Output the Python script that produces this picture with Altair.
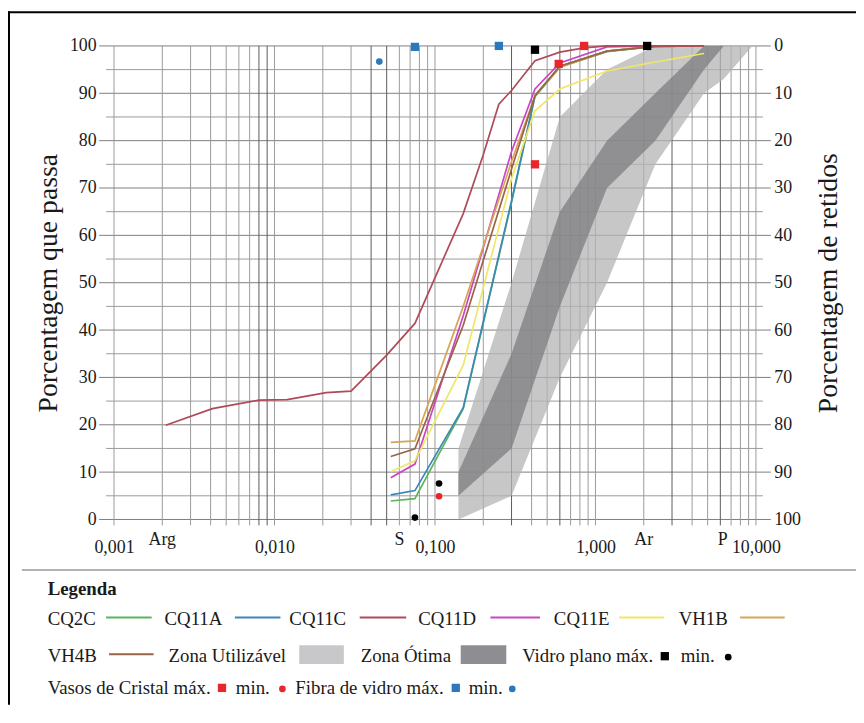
import altair as alt
import pandas as pd

FONT = "Times New Roman, Liberation Serif, DejaVu Serif, serif"
INK = "#1a1a1a"

# ---------------- data ----------------
SERIES = ["CQ2C", "CQ11A", "CQ11C", "CQ11D", "CQ11E", "VH1B", "VH4B"]
COLORS = ["#5fb35f", "#3a88b5", "#b04a58", "#cc44c4", "#efe765", "#d8a455", "#9a6446"]

SIEVES = [0.053, 0.075, 0.15, 0.3, 0.42, 0.6, 1.18, 2.36, 4.75]
CQ2C = [3.9, 4.4, 23.4, 67.0, 89.3, 95.5, 98.8, 99.9, 100]
CQ11A = [5.2, 6.1, 23.6, 67.3, 89.5, 95.7, 98.9, 99.9, 100]
CQ11D = [8.8, 11.7, 43.0, 77.7, 90.9, 96.4, 99.8, 100, 100]
CQ11E = [10.1, 12.4, 32.6, 72.0, 86.3, 90.9, 94.7, 96.6, 98.4]
VH1B = [16.3, 16.6, 45.0, 75.6, 89.5, 95.5, 98.9, 100, 100]
VH4B = [13.3, 14.9, 41.0, 74.0, 89.5, 95.7, 98.9, 99.9, 100]

CQ11C_D = [0.0021, 0.0041, 0.008, 0.012, 0.021, 0.03, 0.05, 0.075, 0.15,
           0.2, 0.25, 0.3, 0.42, 0.6, 0.85, 1.18, 2.36, 4.75]
CQ11C_P = [19.9, 23.4, 25.2, 25.3, 26.8, 27.1, 34.7, 41.4, 64.6,
           77.0, 87.7, 90.6, 96.9, 98.7, 99.6, 100, 100, 100]

ZONE_D = [0.14, 0.3, 0.6, 1.18, 2.36, 4.75, 6.3, 9.5]
UTIL_LO = [0, 5, 30, 50, 75, 90, 93, 100]
UTIL_HI = [15, 50, 85, 95, 100, 100, 100, 100]
OT_LO = [5, 15, 45, 70, 80, 95, 100, 100]
OT_HI = [10, 35, 65, 80, 90, 100, 100, 100]

VIDRO_MAX_D, VIDRO_MAX_P = [0.42, 2.1], [99.2, 100]
VIDRO_MIN_D, VIDRO_MIN_P = [0.075, 0.106], [0.4, 7.6]
VASOS_MAX_D, VASOS_MAX_P = [0.42, 0.59, 0.85], [75.0, 96.2, 100]
VASOS_MIN_D, VASOS_MIN_P = [0.106], [4.9]
FIBRA_MAX_D, FIBRA_MAX_P = [0.075, 0.25], [99.8, 100]
FIBRA_MIN_D, FIBRA_MIN_P = [0.045], [96.7]

CLASS_LABELS = ["Arg", "S", "Ar", "P"]
CLASS_D = [0.002, 0.06, 2.0, 6.2]

X_TICKS = [0.001, 0.01, 0.1, 1, 10]
Y_TICKS = list(range(0, 101, 10))
Y_MINOR = list(range(5, 100, 10))
GRID_D = [m * 10.0 ** e for e in range(-3, 1) for m in range(1, 10)] + [10.0]
GRID_DARK = [0.008, 0.009, 0.04, 0.05, 0.3, 0.6, 3.0, 6.0]

# ---------------- layout ----------------
W, H = 648, 478
PAD = {"left": 107, "top": 35, "right": 101, "bottom": 187}

XS = alt.Scale(type="log", domain=[0.001, 10], nice=False)
YS = alt.Scale(domain=[0, 100], nice=False)

XA = alt.Axis(values=X_TICKS, labelExpr="replace(format(datum.value, '.3f'), '.', ',')",
              title=None, grid=False, ticks=False, domain=False, labelPadding=19,
              labelFont=FONT, labelFontSize=18, labelColor=INK, labelFlush=False,
              labelOverlap=False)
YA = alt.Axis(values=Y_TICKS, title="Porcentagem que passa", grid=False, ticks=False,
              domain=False, labelPadding=18, labelFont=FONT, labelFontSize=18,
              labelColor=INK, titleFont=FONT, titleFontSize=28, titleFontWeight="normal",
              titleColor=INK, titlePadding=7)
RA = alt.Axis(orient="right", values=Y_TICKS, title="Porcentagem de retidos", grid=False,
              ticks=False, domain=False, labelPadding=18, labelFont=FONT, labelFontSize=18,
              labelColor=INK, titleFont=FONT, titleFontSize=28, titleFontWeight="normal",
              titleColor=INK, titlePadding=14, titleAngle=270, titleBaseline="top")


def X(f):
    return alt.X(f"{f}:Q", scale=XS, axis=XA)


def Y(f):
    return alt.Y(f"{f}:Q", scale=YS, axis=YA)


ONE = pd.DataFrame({"k": [0]})

# grid
hmaj = alt.Chart(pd.DataFrame({"v": Y_TICKS})).mark_rule(color="#7d7d7d", strokeWidth=1).encode(
    y=Y("v"), x=alt.value(-15), x2=alt.value(W + 15))
hmin = alt.Chart(pd.DataFrame({"v": Y_MINOR})).mark_rule(color="#9a9a9a", strokeWidth=1).encode(
    y=Y("v"), x=alt.value(-8), x2=alt.value(W + 7))
grid_df = pd.DataFrame({"v": GRID_D})
grid_df["dark"] = [any(abs(v - g) / g < 1e-6 for g in GRID_DARK) for v in GRID_D]
vlight = alt.Chart(grid_df[~grid_df["dark"]]).mark_rule(color="#9a9a9a", strokeWidth=1).encode(
    x=X("v"), y=alt.value(0), y2=alt.value(H + 6))
vdark = alt.Chart(grid_df[grid_df["dark"]]).mark_rule(color="#5a5a5a", strokeWidth=1).encode(
    x=X("v"), y=alt.value(0), y2=alt.value(H + 6))

# zones
zone_df = pd.DataFrame({"d": ZONE_D, "ulo": UTIL_LO, "uhi": UTIL_HI, "olo": OT_LO, "ohi": OT_HI})
util = alt.Chart(zone_df).mark_area(color="#b4b4b6", opacity=0.75).encode(
    x=X("d"), y=Y("ulo"), y2=alt.Y2("uhi"))
otima = alt.Chart(zone_df).mark_area(color="#7e7e82", opacity=0.75).encode(
    x=X("d"), y=Y("olo"), y2=alt.Y2("ohi"))

# curves
rows = []
for name, vals in [("CQ2C", CQ2C), ("CQ11A", CQ11A), ("CQ11D", CQ11D), ("CQ11E", CQ11E),
                   ("VH1B", VH1B), ("VH4B", VH4B)]:
    rows += [{"s": name, "d": d, "p": p} for d, p in zip(SIEVES, vals)]
rows += [{"s": "CQ11C", "d": d, "p": p} for d, p in zip(CQ11C_D, CQ11C_P)]
curves = alt.Chart(pd.DataFrame(rows)).mark_line(strokeWidth=1.7).encode(
    x=X("d"), y=Y("p"),
    color=alt.Color("s:N", scale=alt.Scale(domain=SERIES, range=COLORS), legend=None))


def pts(ds, ps, shape, color, size):
    return alt.Chart(pd.DataFrame({"d": ds, "p": ps})).mark_point(
        shape=shape, filled=True, size=size, color=color, opacity=1, strokeWidth=0).encode(
        x=X("d"), y=Y("p"))


markers = [
    pts(VIDRO_MAX_D, VIDRO_MAX_P, "square", "#000000", 70),
    pts(VIDRO_MIN_D, VIDRO_MIN_P, "circle", "#000000", 45),
    pts(VASOS_MAX_D, VASOS_MAX_P, "square", "#e8262c", 70),
    pts(VASOS_MIN_D, VASOS_MIN_P, "circle", "#e8262c", 45),
    pts(FIBRA_MAX_D, FIBRA_MAX_P, "square", "#2b79bb", 70),
    pts(FIBRA_MIN_D, FIBRA_MIN_P, "circle", "#2b79bb", 45),
]

classes = alt.Chart(pd.DataFrame({"t": CLASS_LABELS, "d": CLASS_D, "p": [-5.4] * 4})).mark_text(
    font=FONT, fontSize=18, color=INK, align="center", baseline="alphabetic").encode(
    x=X("d"), y=Y("p"), text="t:N")


# ---------------- legend / frame decoration ----------------
def txt(s, x, y, size=19, weight="normal"):
    return alt.Chart(ONE).mark_text(text=s, font=FONT, fontSize=size, fontWeight=weight,
                                    align="left", baseline="alphabetic", color=INK).encode(
        x=alt.value(x), y=alt.value(y))


def seg(x1, x2, y, color, width=2.0):
    return alt.Chart(ONE).mark_rule(color=color, strokeWidth=width).encode(
        x=alt.value(x1), x2=alt.value(x2), y=alt.value(y))


def vseg(x, y1, y2, color, width=2.0):
    return alt.Chart(ONE).mark_rule(color=color, strokeWidth=width).encode(
        x=alt.value(x), y=alt.value(y1), y2=alt.value(y2))


def box(x1, x2, y1, y2, color):
    return alt.Chart(ONE).mark_rect(color=color).encode(
        x=alt.value(x1), x2=alt.value(x2), y=alt.value(y1), y2=alt.value(y2))


def sym(shape, x, y, color, size):
    return alt.Chart(ONE).mark_point(shape=shape, filled=True, size=size, color=color,
                                     opacity=1, strokeWidth=0).encode(
        x=alt.value(x), y=alt.value(y))


deco = [
    vseg(-106, -35, H + PAD["bottom"], "#000000", 2),
    seg(-107, W + PAD["right"], -34, "#000000", 2),
    seg(-93, W + PAD["right"], 529, "#9a9a9a", 1.5),
    txt("Legenda", -67, 554.5, 19, "bold"),
]
row1_text_x = [-67, 51, 177, 307, 444, 570]
row1_line_x = [(-8, 38), (122, 168), (248, 295), (380, 430), (510, 555), (632, 677)]
for name, col, tx, (l1, l2) in zip(SERIES[:6], COLORS[:6], row1_text_x, row1_line_x):
    deco += [txt(name, tx, 584.5), seg(l1, l2, 577, col)]
deco += [
    txt("VH4B", -67, 621.5), seg(-5, 40, 614, COLORS[6]),
    txt("Zona Utilizável", 55, 621.5), box(187, 232, 605, 624, "#c8c8ca"),
    txt("Zona Ótima", 249, 621.5), box(350, 396, 605, 624, "#8e8e92"),
    txt("Vidro plano máx.", 412, 621.5), sym("square", 556, 616, "#000000", 70),
    txt("min.", 572, 621.5), sym("circle", 620, 617, "#000000", 45),
    txt("Vasos de Cristal máx.", -67, 654.5), sym("square", 109, 648, "#e8262c", 70),
    txt("min.", 123, 654.5), sym("circle", 170, 649, "#e8262c", 45),
    txt("Fibra de vidro máx.", 183, 654.5), sym("square", 345, 648, "#2b79bb", 70),
    txt("min.", 358, 654.5), sym("circle", 402, 649, "#2b79bb", 45),
]

main = alt.layer(hmin, hmaj, vlight, vdark, util, otima, curves, *markers, classes, *deco)

right = alt.Chart(pd.DataFrame({"r": Y_TICKS})).mark_point(opacity=0).encode(
    y=alt.Y("r:Q", scale=alt.Scale(domain=[0, 100], reverse=True, nice=False), axis=RA))

chart = alt.layer(main, right).resolve_scale(y="independent").properties(
    width=W, height=H, padding=PAD, autosize=alt.AutoSizeParams(type="none"),
    background="#ffffff").configure_view(stroke=None)

chart.save("out.html", embed_options={"renderer": "svg", "actions": False})
